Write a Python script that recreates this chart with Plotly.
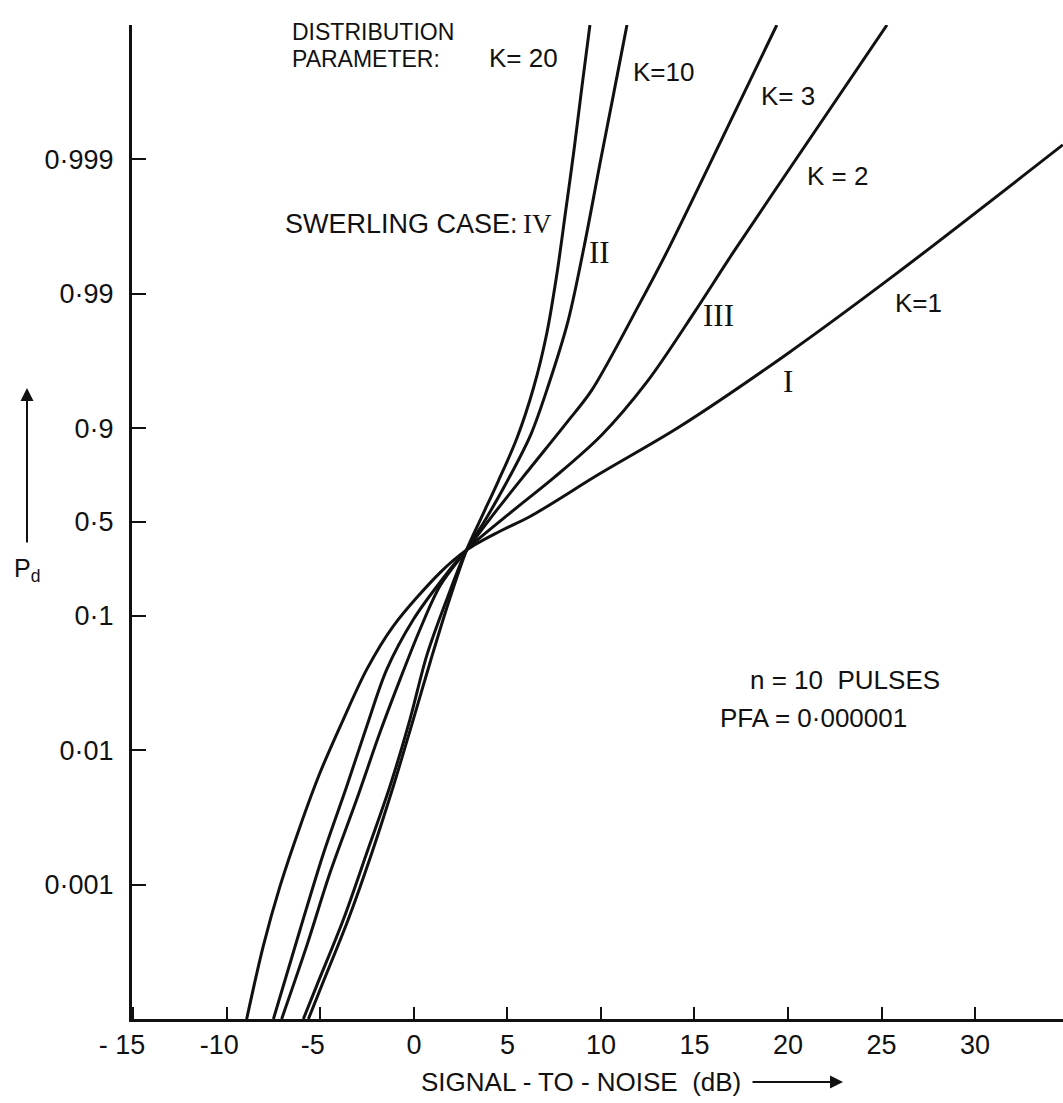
import numpy as np
import plotly.graph_objects as go

# ---- data (SNR in dB, probability of detection) ----
snr_k1 = [-8.94, -8.05, -7.16, -6.09, -5.02, -3.77, -2.52, -1.10, 1.40, 2.82, 4.60, 6.21, 9.95, 14.22, 19.95, 25.72, 34.69]
pd_k1 = [0.0001, 0.00035, 0.00097, 0.0027, 0.0068, 0.017, 0.040, 0.084, 0.21, 0.31, 0.427, 0.545, 0.782, 0.9027, 0.97195, 0.99279, 0.99922]

snr_k2 = [-7.51, -6.09, -4.84, -3.59, -2.52, -1.45, -0.03, 1.40, 2.82, 5.0, 7.5, 10.0, 12.5, 15.0, 17.0, 20.0, 25.29]
pd_k2 = [0.0001, 0.00046, 0.0017, 0.0054, 0.0151, 0.040, 0.094, 0.178, 0.31, 0.555, 0.767, 0.886, 0.9555, 0.9863, 0.9949, 0.99878, 0.9999]

snr_k3 = [-7.07, -5.73, -4.48, -3.06, -1.81, -0.74, 0.33, 1.40, 2.82, 4.5, 6.21, 8.17, 9.51, 12.09, 13.58, 16.5, 19.40]
pd_k3 = [0.0001, 0.00035, 0.00123, 0.0043, 0.0136, 0.0337, 0.0796, 0.1675, 0.31, 0.604, 0.801, 0.909, 0.9478, 0.9883, 0.99528, 0.99931, 0.9999]

snr_k10 = [-5.91, -5.19, -3.77, -2.52, -1.28, -0.21, 0.69, 1.75, 2.82, 3.75, 4.9, 6.25, 7.2, 8.25, 9.1, 9.95, 10.65, 11.39]
pd_k10 = [0.0001, 0.000178, 0.00055, 0.00172, 0.0054, 0.017, 0.0509, 0.132, 0.31, 0.50, 0.738, 0.8883, 0.9524, 0.98422, 0.99555, 0.99893, 0.99966, 0.9999]

snr_k20 = [-5.64, -4.84, -3.51, -2.25, -1.10, -0.03, 0.9, 1.85, 2.82, 3.6, 4.5, 5.5, 6.4, 7.1, 7.65, 8.1, 8.55, 8.98, 9.41]
pd_k20 = [0.0001, 0.00019, 0.00055, 0.00172, 0.0054, 0.017, 0.0468, 0.126, 0.31, 0.534, 0.75, 0.8803, 0.9501, 0.98014, 0.99295, 0.9975, 0.99913, 0.99971, 0.9999]

x_tick_vals = [-15, -10, -5, 0, 5, 10, 15, 20, 25, 30]
x_tick_text = ["- 15\u00a0\u00a0\u00a0", "-10\u00a0\u00a0", "-5\u00a0\u00a0", "0", "5", "10", "15", "20", "25", "30"]
pd_tick_vals = [0.001, 0.01, 0.1, 0.5, 0.9, 0.99, 0.999]
pd_tick_text = ["0·001", "0·01", "0·1", "0·5", "0·9", "0·99", "0·999"]


def pscale(p):
    """Probability scale of the chart: log10(P) below 0.5, mirrored log10(1-P) above."""
    p = np.asarray(p, dtype=float)
    return np.where(p <= 0.5, np.log10(p), 2 * np.log10(0.5) - np.log10(1 - p))


FONT = "Liberation Sans"
SERIF = "Liberation Serif"
INK = "#111111"

fig = go.Figure()
for xs, ps in [(snr_k1, pd_k1), (snr_k2, pd_k2), (snr_k3, pd_k3), (snr_k10, pd_k10), (snr_k20, pd_k20)]:
    fig.add_trace(go.Scatter(x=xs, y=pscale(ps), mode="lines",
                             line=dict(color=INK, width=3, shape="spline", smoothing=0.9),
                             showlegend=False, hoverinfo="skip"))

W, H = 1063, 1103
L, R, T, B = 132, 0, 25, 84
PW, PH = W - L - R, H - T - B


def px(xp):
    return (xp - L) / PW


def py(yp):
    return (H - B - yp) / PH


annotations = []


def label(text, xp, yp, anchor="left", size=24, family=FONT):
    annotations.append(dict(text=text, x=px(xp), y=py(yp), xref="paper", yref="paper",
                            xanchor=anchor, yanchor="middle", showarrow=False,
                            font=dict(family=family, size=size, color=INK)))


label("DISTRIBUTION", 290, 32, size=23)
label("PARAMETER:", 290, 59, size=23)
label("K= 20", 487, 58, size=26)
label("K=10", 631, 72, size=26)
label("K= 3", 759, 96, size=26)
label("K = 2", 805, 176, size=26)
label("K=1", 893, 303, size=26)
label("SWERLING CASE:", 520, 224, anchor="right", size=27)
label("IV", 537, 224, anchor="center", size=27, family=SERIF)
label("II", 599, 252, anchor="center", size=31, family=SERIF)
label("III", 718, 315, anchor="center", size=31, family=SERIF)
label("I", 788, 381, anchor="center", size=31, family=SERIF)
label("n = 10  PULSES", 748, 680, size=26)
label("PFA = 0·000001", 718, 718, size=26)

# axis titles, each carrying its arrow
annotations.append(dict(text="SIGNAL - TO - NOISE  (dB)", x=px(843), y=py(1082),
                        xref="paper", yref="paper", ax=-262, ay=0,
                        showarrow=True, arrowhead=2, arrowsize=1.3, arrowwidth=2,
                        arrowcolor=INK, standoff=0, startstandoff=10,
                        font=dict(family=FONT, size=26, color=INK)))
annotations.append(dict(text="P<sub>d</sub>", x=px(27), y=py(388),
                        xref="paper", yref="paper", ax=0, ay=182,
                        showarrow=True, arrowhead=2, arrowsize=1.3, arrowwidth=2,
                        arrowcolor=INK, standoff=0, startstandoff=10,
                        font=dict(family=FONT, size=25, color=INK)))

fig.update_layout(
    width=W, height=H, autosize=False,
    margin=dict(l=L, r=R, t=T, b=B),
    paper_bgcolor="white", plot_bgcolor="white",
    annotations=annotations,
    xaxis=dict(range=[-15.07, 34.7], showline=True, linecolor=INK, linewidth=3,
               ticks="inside", ticklen=12, tickwidth=2, tickcolor=INK,
               tickvals=x_tick_vals, ticktext=x_tick_text,
               tickfont=dict(family=FONT, size=27, color=INK),
               showgrid=False, zeroline=False, ticklabelstandoff=0),
    yaxis=dict(range=[float(pscale(0.0001)), float(pscale(0.9999))], showline=True,
               linecolor=INK, linewidth=3,
               ticks="inside", ticklen=14, tickwidth=2, tickcolor=INK,
               tickvals=pscale(pd_tick_vals).tolist(), ticktext=pd_tick_text,
               tickfont=dict(family=FONT, size=27, color=INK),
               showgrid=False, zeroline=False, ticklabelstandoff=10),
)

fig.write_html("out.html")
